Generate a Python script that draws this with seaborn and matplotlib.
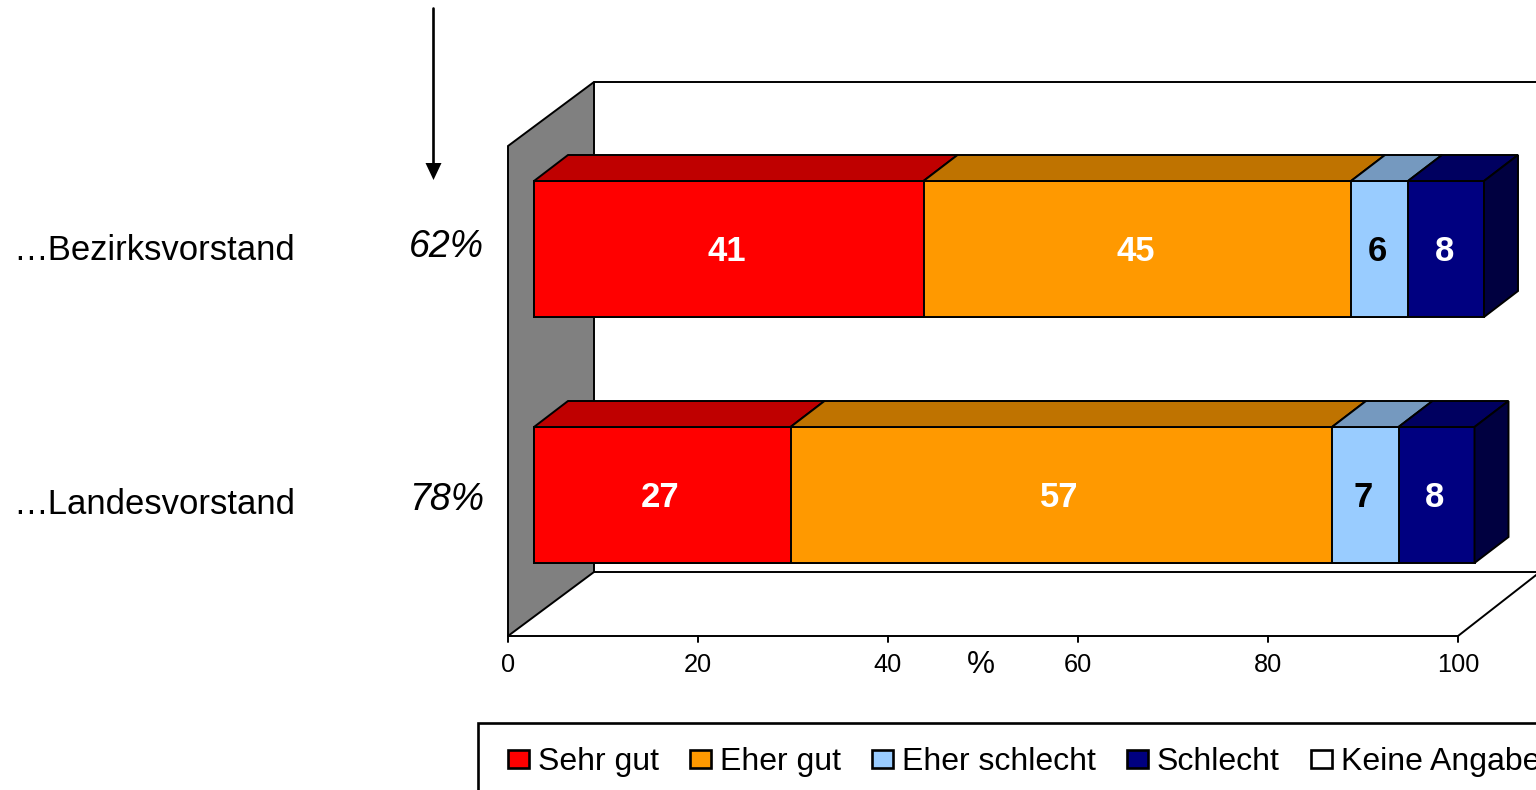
"""Stacked 3D-look bar chart: rating of Bezirksvorstand and Landesvorstand."""

import matplotlib
matplotlib.use('Agg')
import matplotlib.pyplot as plt
from matplotlib.patches import Patch, Polygon, Rectangle
from matplotlib.transforms import Affine2D
import numpy as np
import seaborn as sns

categories = ['…Bezirksvorstand', '…Landesvorstand']
shares = ['62%', '78%']
series_names = ['Sehr gut', 'Eher gut', 'Eher schlecht', 'Schlecht', 'Keine Angabe']
sehr_gut = [41, 27]
eher_gut = [45, 57]
eher_schlecht = [6, 7]
schlecht = [8, 8]
keine_angabe = [0, 0]
x_ticks = [0, 20, 40, 60, 80, 100]

front_colors = ['#FF0000', '#FF9900', '#99CCFF', '#000080', '#FFFFFF']
top_colors = ['#BF0000', '#BF7300', '#7599BF', '#000060', '#FFFFFF']
side_color = '#000040'
label_colors = ['white', 'white', 'black', 'white']

W, H = 1536, 790
PX_PER_UNIT = 9.5
ROW_PX = 246
X0_PX, Y0_PX = 534, 249
DEPTH_X = 34 / PX_PER_UNIT
DEPTH_Y = 26 / ROW_PX
LW = 1.4

sns.set_theme(style='white')
plt.rcParams['font.family'] = ['Liberation Sans', 'DejaVu Sans']

fig = plt.figure(figsize=(W / 100, H / 100), dpi=100, facecolor='white')
ax = fig.add_axes([0, 0, 1, 1])

# screen pixels, y down, for the chart furniture
px = Affine2D().scale(1, -1).translate(0, H)

# back wall and floor
ax.add_patch(Polygon([(508, 146), (594, 82), (594, 572), (508, 636)], closed=True,
                     facecolor='#808080', edgecolor='black', lw=LW, transform=px, zorder=1))
ax.plot([594, 1540], [82, 82], color='black', lw=LW, transform=px, zorder=1)
ax.plot([594, 1540], [572, 572], color='black', lw=LW, transform=px, zorder=1)
ax.plot([508, 1458, 1540], [636, 636, 572], color='black', lw=LW, transform=px, zorder=1)

# stacked bars: cumulative totals, longest first
stack = np.array([sehr_gut, eher_gut, eher_schlecht, schlecht], dtype=float)
cum = stack.cumsum(axis=0)
for i in range(3, -1, -1):
    sns.barplot(x=cum[i], y=categories, orient='h', width=136 / ROW_PX, color=front_colors[i],
                saturation=1, edgecolor='black', linewidth=LW, ax=ax, zorder=3)

half = 68 / ROW_PX
for row in range(len(categories)):
    left = 0.0
    for i in range(4):
        right = cum[i][row]
        ax.add_patch(Polygon([(left, row - half), (right, row - half),
                              (right + DEPTH_X, row - half - DEPTH_Y),
                              (left + DEPTH_X, row - half - DEPTH_Y)], closed=True,
                             facecolor=top_colors[i], edgecolor='black', lw=LW, zorder=3))
        ax.text((left + right) / 2 - 0.2, row + 2.5 / ROW_PX, f'{stack[i][row]:.0f}',
                color=label_colors[i], fontsize=25, fontweight='bold',
                ha='center', va='center', zorder=5)
        left = right
    ax.add_patch(Polygon([(left, row - half), (left + DEPTH_X, row - half - DEPTH_Y),
                          (left + DEPTH_X, row + half - DEPTH_Y), (left, row + half)], closed=True,
                         facecolor=side_color, edgecolor='black', lw=LW, zorder=3))

ax.set_xlim(-X0_PX / PX_PER_UNIT, (W - X0_PX) / PX_PER_UNIT)
ax.set_ylim((H - Y0_PX) / ROW_PX, -Y0_PX / ROW_PX)
ax.set_axis_off()

# value axis
for tick in x_ticks:
    x_px = 508 + tick * PX_PER_UNIT
    ax.plot([x_px, x_px], [636, 642], color='black', lw=LW, transform=px, zorder=2)
    ax.text(x_px, 665, str(tick), fontsize=18.3, color='black', ha='center', va='center', transform=px)
ax.text(981, 665, '%', fontsize=22.7, color='black', ha='center', va='center', transform=px)

# row labels
for label, share, y_label, y_share in zip(categories, shares, [251, 505], [247, 500]):
    ax.text(13, y_label, label, fontsize=24.9, color='black', ha='left', va='center', transform=px)
    ax.text(484, y_share, share, fontsize=27, style='italic', color='black',
            ha='right', va='center', transform=px)

# arrow
ax.plot([433, 433], [8, 164], color='black', lw=1.9, transform=px, zorder=2)
ax.add_patch(Polygon([(425.5, 163), (441.5, 163), (433.5, 180)], closed=True, facecolor='black',
                     edgecolor='none', transform=px, zorder=2))

# legend box runs off the page
ax.add_patch(Rectangle((478, 723), 1100, 100, facecolor='white', edgecolor='black',
                       lw=1.9, transform=px, zorder=1))
handles = [Patch(facecolor=c, edgecolor='black', lw=1.9) for c in front_colors]
leg = ax.legend(handles, series_names, ncol=5, frameon=False, loc='upper left',
                bbox_to_anchor=(508 / W, 1 - 747 / H), bbox_transform=fig.transFigure,
                fontsize=23, borderpad=0, borderaxespad=0, handlelength=0.66,
                handleheight=0.5, handletextpad=0.28, columnspacing=0.97, labelcolor='black')
leg.set_zorder(6)

fig.savefig('out.png', dpi=100)
